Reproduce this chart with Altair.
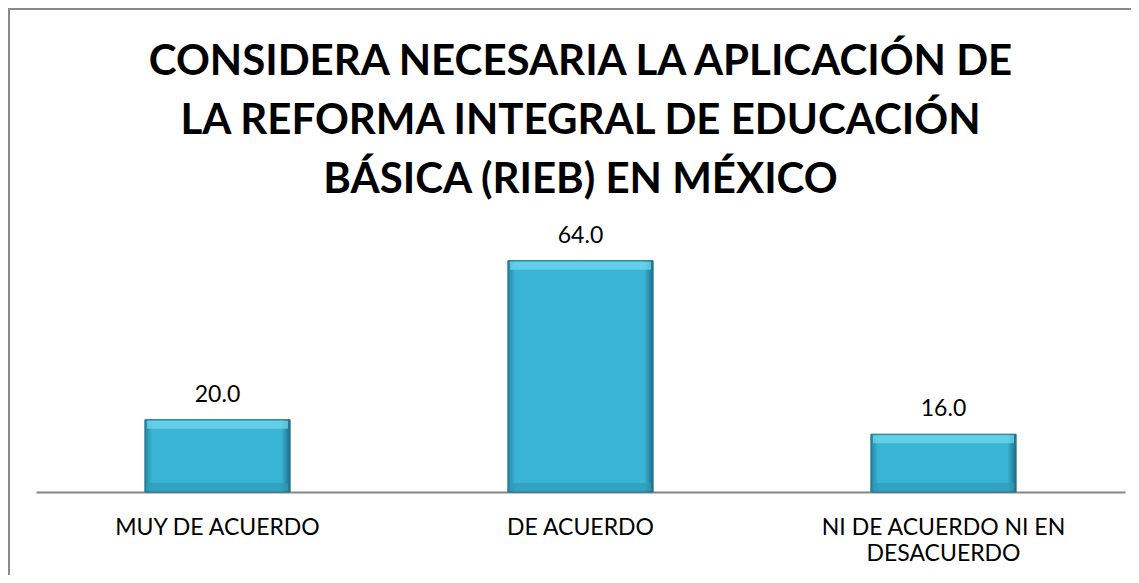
import altair as alt
import pandas as pd

categories = ["MUY DE ACUERDO", "DE ACUERDO", "NI DE ACUERDO NI EN DESACUERDO"]
values = [20.0, 64.0, 16.0]
title_lines = ["CONSIDERA NECESARIA LA APLICACIÓN DE",
               "LA REFORMA INTEGRAL DE EDUCACIÓN",
               "BÁSICA (RIEB) EN MÉXICO"]

df = pd.DataFrame({"cat": categories, "val": values})
title_df = pd.DataFrame({"t": [0]})

FONT = "Lato"

x_enc = alt.X("cat:N", sort=categories, title=None,
              scale=alt.Scale(paddingInner=0.6, paddingOuter=0.3),
              axis=alt.Axis(labelAngle=0, ticks=False, tickSize=0, labelPadding=24,
                            labelFontSize=23, labelFont=FONT, labelColor="#000000",
                            labelLimit=400, labelLineHeight=26,
                            domainColor="#868686", domainWidth=2,
                            labelExpr="datum.label == 'NI DE ACUERDO NI EN DESACUERDO' ? ['NI DE ACUERDO NI EN', 'DESACUERDO'] : datum.label"))
y_enc = alt.Y("val:Q", title=None, scale=alt.Scale(domain=[0, 70], nice=False),
              axis=None)

frame_top = alt.Chart(title_df).mark_rule(stroke="#8a8a8a", strokeWidth=2).encode(
    x=alt.value(-27), x2=alt.value(1095), y=alt.value(-230)
)
frame_left = alt.Chart(title_df).mark_rule(stroke="#8a8a8a", strokeWidth=2).encode(
    x=alt.value(-27), y=alt.value(-231), y2=alt.value(336)
)

title = alt.Chart(title_df).mark_text(
    text=title_lines, font=FONT, fontSize=42, fontWeight="bold", color="#000000",
    align="center", baseline="alphabetic", lineHeight=59
).encode(x=alt.value(544.5), y=alt.value(-164))

grad = alt.Gradient(gradient="linear", x1=0, x2=1, y1=0, y2=0,
                    stops=[alt.GradientStop(offset=0, color="#2585a3"),
                           alt.GradientStop(offset=0.05, color="#3ab4d5"),
                           alt.GradientStop(offset=0.94, color="#3ab4d5"),
                           alt.GradientStop(offset=1, color="#1d6f88")])

bars = alt.Chart(df).mark_bar(fill=grad, stroke="#1f6f86", strokeWidth=1).encode(
    x=x_enc, y=y_enc)

top_hl = alt.Chart(df).mark_tick(color="#72dcf0", thickness=8, size=141, yOffset=5).encode(
    x=alt.X("cat:N", sort=categories), y=alt.Y("val:Q"))

bottom_sh = alt.Chart(df).mark_tick(color="#2f9ab8", thickness=8, size=141, yOffset=-5).encode(
    x=alt.X("cat:N", sort=categories), y=alt.Y("zero:Q")).transform_calculate(zero="0")

labels = alt.Chart(df).mark_text(font=FONT, fontSize=23, color="#000000",
                                 baseline="alphabetic", dy=-18).encode(
    x=alt.X("cat:N", sort=categories), y=alt.Y("val:Q"),
    text=alt.Text("val:Q", format=".1f"))

chart = alt.layer(frame_top, frame_left, bars, top_hl, bottom_sh, labels, title).properties(
    width=1089, height=253,
    autosize=alt.AutoSizeParams(type="none"),
    padding={"left": 28, "top": 231, "right": 6, "bottom": 83},
).configure_view(stroke=None)

chart.save("out.html", embed_options={"renderer": "svg", "actions": False})
